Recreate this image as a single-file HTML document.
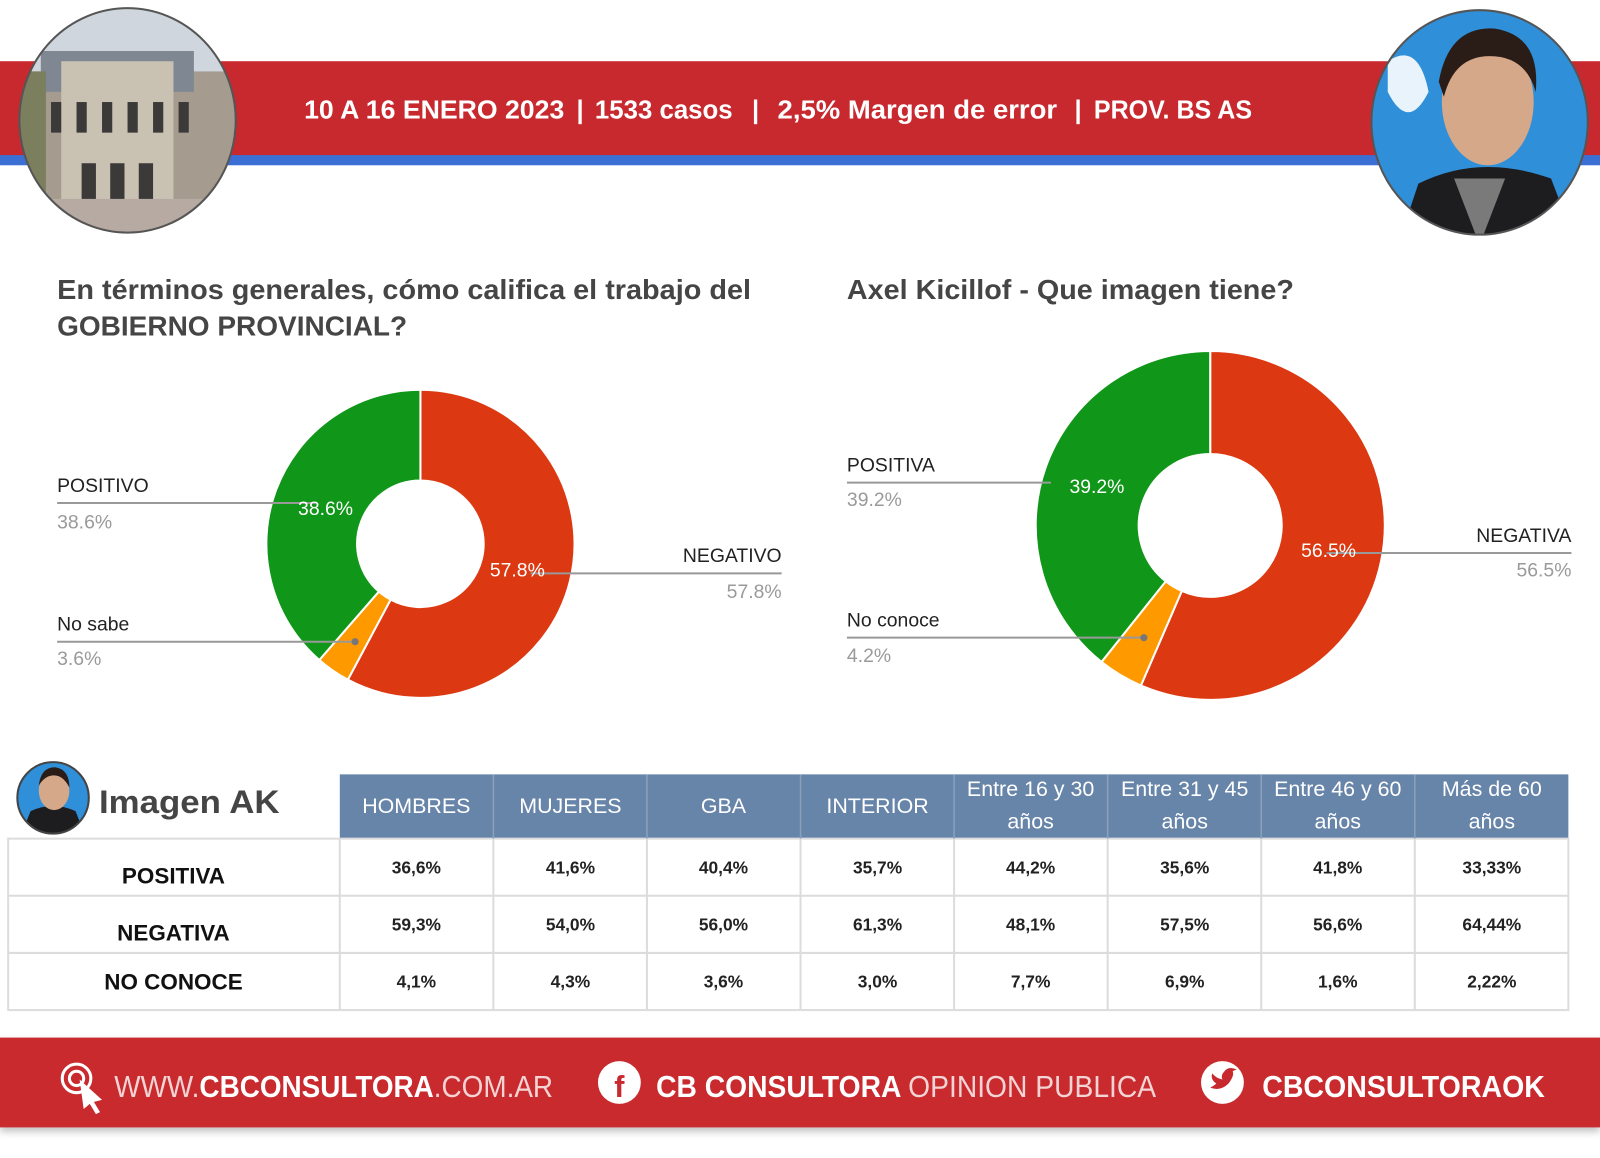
<!DOCTYPE html>
<html><head><meta charset="utf-8"><style>
html,body{margin:0;padding:0;background:#fff;}
svg{display:block;font-family:"Liberation Sans",sans-serif;}
</style></head><body>
<svg width="1600" height="1158" viewBox="0 0 1568 1135" preserveAspectRatio="none">
<defs>
<clipPath id="cl"><ellipse cx="125" cy="118" rx="106" ry="110"/></clipPath>
<clipPath id="cr"><ellipse cx="1450" cy="120" rx="106" ry="110"/></clipPath>
<clipPath id="ca"><circle cx="52" cy="782" r="35"/></clipPath>
<filter id="sh" x="-5%" y="-20%" width="110%" height="150%"><feDropShadow dx="0" dy="4" stdDeviation="4" flood-color="#000" flood-opacity="0.25"/></filter>
</defs>
<rect width="1568" height="1135" fill="#fff"/>
<rect x="0" y="60" width="1568" height="93" fill="#c8292f"/>
<rect x="0" y="152" width="1568" height="10" fill="#3b6fd3"/>
<g fill="#fff" font-size="25" font-weight="bold">
<text x="298" y="116" textLength="255" lengthAdjust="spacingAndGlyphs">10 A 16 ENERO 2023</text>
<text x="565" y="116">|</text>
<text x="583" y="116" textLength="135" lengthAdjust="spacingAndGlyphs">1533 casos</text>
<text x="737" y="116">|</text>
<text x="762" y="116" textLength="274" lengthAdjust="spacingAndGlyphs">2,5% Margen de error</text>
<text x="1053" y="116">|</text>
<text x="1072" y="116" textLength="155" lengthAdjust="spacingAndGlyphs">PROV. BS AS</text>
</g>
<g clip-path="url(#cl)">
<rect x="15" y="5" width="220" height="230" fill="#cfd6de"/>
<rect x="15" y="70" width="220" height="130" fill="#a59c8f"/>
<rect x="40" y="50" width="150" height="40" fill="#7f8792"/>
<rect x="60" y="60" width="110" height="140" fill="#c9c1b2"/>
<g fill="#3b3a38"><rect x="50" y="100" width="10" height="30"/><rect x="75" y="100" width="10" height="30"/><rect x="100" y="100" width="10" height="30"/><rect x="125" y="100" width="10" height="30"/><rect x="150" y="100" width="10" height="30"/><rect x="175" y="100" width="10" height="30"/>
<rect x="80" y="160" width="14" height="35"/><rect x="108" y="160" width="14" height="35"/><rect x="136" y="160" width="14" height="35"/></g>
<rect x="15" y="195" width="220" height="40" fill="#b7aaa3"/>
<rect x="15" y="70" width="30" height="130" fill="#7c7f5e"/>
</g>
<ellipse cx="125" cy="118" rx="106" ry="110" fill="none" stroke="#555" stroke-width="2"/>
<g clip-path="url(#cr)">
<rect x="1340" y="5" width="220" height="230" fill="#2f8fd8"/>
<path d="M1360 60 q30 -20 40 30 q-20 40 -40 0z" fill="#e8f3fb"/>
<path d="M1370 240 L1390 180 Q1450 150 1520 175 L1545 240Z" fill="#1d1d1f"/>
<path d="M1425 175 L1450 240 L1475 175Z" fill="#7a7a7a"/>
<ellipse cx="1458" cy="100" rx="45" ry="62" fill="#d6a88a"/>
<path d="M1410 80 Q1420 25 1465 28 Q1510 35 1505 90 Q1495 55 1460 55 Q1425 55 1415 95Z" fill="#2a1d17"/>
</g>
<ellipse cx="1450" cy="120" rx="106" ry="110" fill="none" stroke="#555" stroke-width="2"/>
<g fill="#454545" font-weight="bold" font-size="27">
<text x="56" y="293" textLength="680" lengthAdjust="spacingAndGlyphs">En términos generales, cómo califica el trabajo del</text>
<text x="56" y="329" textLength="343" lengthAdjust="spacingAndGlyphs">GOBIERNO PROVINCIAL?</text>
<text x="830" y="293" textLength="438" lengthAdjust="spacingAndGlyphs">Axel Kicillof - Que imagen tiene?</text>
</g>
<g stroke="#fff" stroke-width="2">
<path d="M412,382 A151,151 0 1 1 340.9,666.2 L382.8,587.7 A62,62 0 1 0 412,471 Z" fill="#dc3912"/>
<path d="M340.9,666.2 A151,151 0 0 1 312.9,646.9 L371.3,579.8 A62,62 0 0 0 382.8,587.7 Z" fill="#ff9900"/>
<path d="M312.9,646.9 A151,151 0 0 1 412,382 L412,471 A62,62 0 0 0 371.3,579.8 Z" fill="#109618"/>
</g>
<g stroke="#fff" stroke-width="2">
<path d="M1186,344 A171,171 0 1 1 1118.1,671.9 L1158.2,579.2 A70,70 0 1 0 1186,445 Z" fill="#dc3912"/>
<path d="M1118.1,671.9 A171,171 0 0 1 1079.5,648.8 L1142.4,569.8 A70,70 0 0 0 1158.2,579.2 Z" fill="#ff9900"/>
<path d="M1079.5,648.8 A171,171 0 0 1 1186,344 L1186,445 A70,70 0 0 0 1142.4,569.8 Z" fill="#109618"/>
</g>
<g stroke="#999" stroke-width="2" fill="none">
<line x1="56" y1="493" x2="310" y2="493"/><line x1="520" y1="562" x2="766" y2="562"/><line x1="56" y1="629" x2="348" y2="629"/>
<line x1="830" y1="473" x2="1030" y2="473"/><line x1="1300" y1="542" x2="1540" y2="542"/><line x1="830" y1="625" x2="1121" y2="625"/>
</g>
<circle cx="348" cy="629" r="3.5" fill="#777"/><circle cx="1121" cy="625" r="3.5" fill="#777"/>
<g font-size="19" fill="#222">
<text x="56" y="482">POSITIVO</text><text x="766" y="551" text-anchor="end">NEGATIVO</text><text x="56" y="618">No sabe</text>
<text x="830" y="462">POSITIVA</text><text x="1540" y="531" text-anchor="end">NEGATIVA</text><text x="830" y="614">No conoce</text>
</g>
<g font-size="19" fill="#9a9a9a">
<text x="56" y="518">38.6%</text><text x="766" y="586" text-anchor="end">57.8%</text><text x="56" y="652">3.6%</text>
<text x="830" y="496">39.2%</text><text x="1540" y="565" text-anchor="end">56.5%</text><text x="830" y="649">4.2%</text>
</g>
<g font-size="19" fill="#fff">
<text x="319" y="505" text-anchor="middle">38.6%</text><text x="507" y="565" text-anchor="middle">57.8%</text>
<text x="1075" y="483" text-anchor="middle">39.2%</text><text x="1302" y="546" text-anchor="middle">56.5%</text>
</g>
<g clip-path="url(#ca)"><rect x="17" y="747" width="70" height="70" fill="#2f8fd8"/><path d="M20 820 L30 795 Q52 785 74 795 L84 820Z" fill="#1d1d1f"/><ellipse cx="53" cy="775" rx="15" ry="19" fill="#d6a88a"/><path d="M38 770 Q40 752 54 752 Q68 754 68 772 Q62 760 53 760 Q44 760 38 770Z" fill="#2a1d17"/></g>
<circle cx="52" cy="782" r="35" fill="none" stroke="#444" stroke-width="2"/>
<text x="97" y="797" font-size="32" font-weight="bold" fill="#454545" textLength="177" lengthAdjust="spacingAndGlyphs">Imagen AK</text>
<rect x="333" y="759" width="1204" height="63" fill="#6784a9"/>
<rect x="8" y="822" width="1529" height="168" fill="#fff" stroke="#ddd" stroke-width="2"/>
<g stroke="#dcdcdc" stroke-width="2">
<line x1="8" y1="878" x2="1537" y2="878"/><line x1="8" y1="934" x2="1537" y2="934"/>
<line x1="333" y1="822" x2="333" y2="990"/>
<line x1="483.5" y1="822" x2="483.5" y2="990"/><line x1="634" y1="822" x2="634" y2="990"/><line x1="784.5" y1="822" x2="784.5" y2="990"/><line x1="935" y1="822" x2="935" y2="990"/><line x1="1085.5" y1="822" x2="1085.5" y2="990"/><line x1="1236" y1="822" x2="1236" y2="990"/><line x1="1386.5" y1="822" x2="1386.5" y2="990"/>
</g>
<g stroke="#8aa0bd" stroke-width="1.5">
<line x1="483.5" y1="759" x2="483.5" y2="822"/><line x1="634" y1="759" x2="634" y2="822"/><line x1="784.5" y1="759" x2="784.5" y2="822"/><line x1="935" y1="759" x2="935" y2="822"/><line x1="1085.5" y1="759" x2="1085.5" y2="822"/><line x1="1236" y1="759" x2="1236" y2="822"/><line x1="1386.5" y1="759" x2="1386.5" y2="822"/>
</g>
<g fill="#fff" font-size="21" text-anchor="middle">
<text x="408" y="797">HOMBRES</text><text x="559" y="797">MUJERES</text><text x="709" y="797">GBA</text><text x="860" y="797">INTERIOR</text>
<text x="1010" y="780">Entre 16 y 30</text><text x="1010" y="812">años</text>
<text x="1161" y="780">Entre 31 y 45</text><text x="1161" y="812">años</text>
<text x="1311" y="780">Entre 46 y 60</text><text x="1311" y="812">años</text>
<text x="1462" y="780">Más de 60</text><text x="1462" y="812">años</text>
</g>
<g fill="#111" font-size="22" font-weight="bold" text-anchor="middle">
<text x="170" y="866">POSITIVA</text><text x="170" y="922">NEGATIVA</text><text x="170" y="970">NO CONOCE</text>
</g>
<g fill="#222" font-size="17" font-weight="bold" text-anchor="middle">
<text x="408" y="856">36,6%</text><text x="559" y="856">41,6%</text><text x="709" y="856">40,4%</text><text x="860" y="856">35,7%</text><text x="1010" y="856">44,2%</text><text x="1161" y="856">35,6%</text><text x="1311" y="856">41,8%</text><text x="1462" y="856">33,33%</text>
<text x="408" y="912">59,3%</text><text x="559" y="912">54,0%</text><text x="709" y="912">56,0%</text><text x="860" y="912">61,3%</text><text x="1010" y="912">48,1%</text><text x="1161" y="912">57,5%</text><text x="1311" y="912">56,6%</text><text x="1462" y="912">64,44%</text>
<text x="408" y="968">4,1%</text><text x="559" y="968">4,3%</text><text x="709" y="968">3,6%</text><text x="860" y="968">3,0%</text><text x="1010" y="968">7,7%</text><text x="1161" y="968">6,9%</text><text x="1311" y="968">1,6%</text><text x="1462" y="968">2,22%</text>
</g>
<rect x="0" y="1017" width="1568" height="88" fill="#c8292f" filter="url(#sh)"/>
<g fill="none" stroke="#fff" stroke-width="3">
<circle cx="75" cy="1057" r="14"/><circle cx="75" cy="1057" r="7"/>
</g>
<path d="M78 1058 L100 1078 L92 1080 L98 1090 L94 1092 L88 1082 L82 1087Z" fill="#fff"/>
<text x="112" y="1075" fill="#fff" font-size="30" textLength="430" lengthAdjust="spacingAndGlyphs"><tspan fill="#f3d3d3">WWW.</tspan><tspan font-weight="bold">CBCONSULTORA</tspan><tspan fill="#f3d3d3">.COM.AR</tspan></text>
<circle cx="607" cy="1061" r="21" fill="#fff"/>
<text x="607" y="1075" text-anchor="middle" fill="#c8292f" font-size="30" font-weight="bold">f</text>
<text x="643" y="1075" fill="#fff" font-size="30" textLength="490" lengthAdjust="spacingAndGlyphs"><tspan font-weight="bold">CB CONSULTORA </tspan><tspan fill="#f3d3d3">OPINION PUBLICA</tspan></text>
<circle cx="1198" cy="1061" r="21" fill="#fff"/>
<path d="M1186 1066 Q1196 1070 1204 1062 Q1210 1054 1208 1050 L1212 1048 L1208 1047 Q1203 1046 1200 1050 Q1196 1054 1198 1058 Q1192 1057 1188 1052 Q1186 1058 1192 1062 Q1190 1064 1186 1066Z" fill="#c8292f"/>
<text x="1237" y="1075" fill="#fff" font-size="30" font-weight="bold" textLength="277" lengthAdjust="spacingAndGlyphs">CBCONSULTORAOK</text>
</svg>
</body></html>
